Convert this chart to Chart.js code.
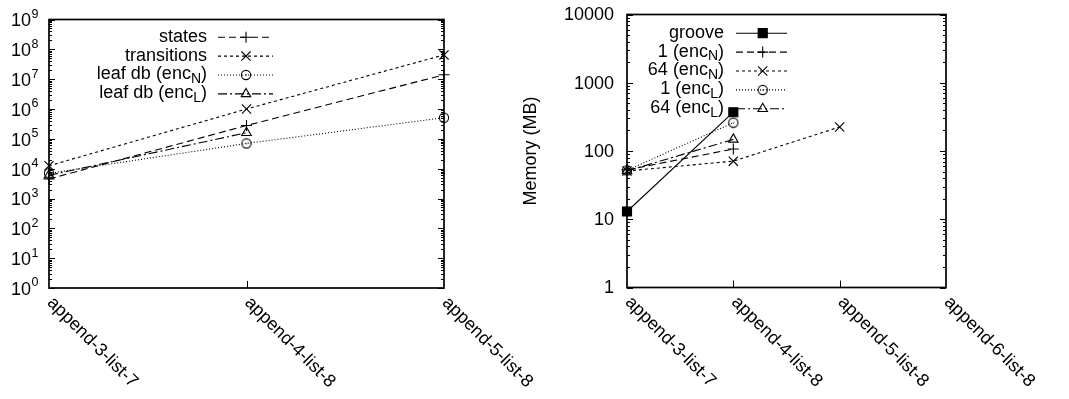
<!DOCTYPE html>
<html>
<head>
<meta charset="utf-8">
<script src="https://cdn.jsdelivr.net/npm/chart.js@4/dist/chart.umd.min.js"></script>
<style>
html, body { margin: 0; padding: 0; background: #fff; }
#wrap { position: relative; width: 1069px; height: 399px; }
canvas { position: absolute; top: 0; }
</style>
</head>
<body>
<div id="wrap">
  <canvas id="leftChart" width="620" height="399" style="left:0"></canvas>
  <canvas id="rightChart" width="549" height="399" style="left:520px"></canvas>
</div>
<script>
const FONT = '"Liberation Sans", Arial, sans-serif';
const FS = 18;

// left panel: sizes
const leftCats = ['append-3-list-7', 'append-4-list-8', 'append-5-list-8'];
const leftNames = ['states', 'transitions', 'leaf db (enc_{N})', 'leaf db (enc_{L})'];
const statesVals = [4500, 2.8e5, 1.4e7];
const transitionsVals = [1.25e4, 1.0e6, 6.5e7];
const leafNVals = [7000, 7.0e4, 5.1e5];
const leafLVals = [6000, 1.6e5, null];
const leftExponents = [0, 1, 2, 3, 4, 5, 6, 7, 8, 9];

// right panel: memory
const rightCats = ['append-3-list-7', 'append-4-list-8', 'append-5-list-8', 'append-6-list-8'];
const rightNames = ['groove', '1 (enc_{N})', '64 (enc_{N})', '1 (enc_{L})', '64 (enc_{L})'];
const grooveVals = [13, 370, null, null];
const oneNVals = [53, 107, null, null];
const sixtyFourNVals = [51, 71, 225, null];
const oneLVals = [52, 260, null, null];
const sixtyFourLVals = [51, 148, null, null];
const rightTicks = [1, 10, 100, 1000, 10000];
const rightTitle = 'Memory (MB)';

// circle with a dot in the middle, like gnuplot's open circle
function dotCircle() {
    const c = document.createElement('canvas');
    c.width = 12; c.height = 12;
    const g = c.getContext('2d');
    g.strokeStyle = '#000'; g.lineWidth = 1.1;
    g.beginPath(); g.arc(6, 6, 4.6, 0, Math.PI * 2); g.stroke();
    g.fillStyle = '#000'; g.fillRect(5.5, 5.5, 1.2, 1.2);
    return c;
}
const CIRCLE = dotCircle();

const STYLES = {
    solid:   { dash: [],            point: 'rect',     radius: 6.4, fill: true },
    dashed:  { dash: [7, 4],        point: 'cross',    radius: 5.5 },
    short:   { dash: [3, 3],        point: 'crossRot', radius: 6.5 },
    dotted:  { dash: [1, 2],        point: CIRCLE,     radius: 5 },
    dashdot: { dash: [9, 3, 2, 3],  point: 'triangle', radius: 5.5 }
};

function ds(label, data, st) {
    const s = STYLES[st];
    return {
        label, data,
        borderColor: '#000', borderWidth: 1.1, borderDash: s.dash,
        pointStyle: s.point, pointRadius: s.radius, pointBorderWidth: 1.1,
        pointBorderColor: '#000', pointBackgroundColor: s.fill ? '#000' : 'rgba(0,0,0,0)',
        fill: false, tension: 0, clip: false, spanGaps: false
    };
}

// draws text with _{x} subscripts
function richText(ctx, str, x, y) {
    const parts = str.split(/(_\{[^}]*\})/).filter(p => p.length);
    let total = 0;
    const items = parts.map(p => {
        const sub = p.startsWith('_{');
        const txt = sub ? p.slice(2, -1) : p;
        ctx.font = (sub ? Math.round(FS * 0.8) : FS) + 'px ' + FONT;
        const w = ctx.measureText(txt).width;
        total += w;
        return { txt, sub, w };
    });
    let cx = x - total;
    items.forEach(it => {
        ctx.font = (it.sub ? Math.round(FS * 0.8) : FS) + 'px ' + FONT;
        ctx.textAlign = 'left';
        ctx.fillText(it.txt, cx, it.sub ? y + 5 : y);
        cx += it.w;
    });
}

const gnuplotPlugin = {
    id: 'gnuplot',
    afterDraw(chart, args, o) {
        const ctx = chart.ctx;
        const a = chart.chartArea;
        const xs = chart.scales.x, ys = chart.scales.y;
        ctx.save();
        ctx.strokeStyle = '#000'; ctx.fillStyle = '#000';

        // y ticks, major and minor, both sides
        ctx.lineWidth = 1;
        ctx.setLineDash([]);
        ctx.beginPath();
        const minE = Math.round(Math.log10(ys.min)), maxE = Math.round(Math.log10(ys.max));
        for (let e = minE; e <= maxE; e++) {
            for (let m = 1; m <= 9; m++) {
                const v = m * Math.pow(10, e);
                if (v > ys.max) break;
                const py = Math.round(ys.getPixelForValue(v)) + 0.5;
                const len = m === 1 ? 6 : 3;
                ctx.moveTo(a.left, py); ctx.lineTo(a.left + len, py);
                ctx.moveTo(a.right, py); ctx.lineTo(a.right - len, py);
            }
        }
        // x ticks at bottom
        for (let i = 1; i < xs.ticks.length - 1; i++) {
            const px = Math.round(xs.getPixelForTick(i)) + 0.5;
            ctx.moveTo(px, a.bottom); ctx.lineTo(px, a.bottom - 7);
        }
        ctx.stroke();

        // frame
        ctx.lineWidth = 1.7;
        ctx.strokeRect(a.left, a.top, a.right - a.left, a.bottom - a.top);

        // y tick labels
        ctx.textBaseline = 'middle';
        o.yLabels.forEach(v => {
            const py = ys.getPixelForValue(v);
            if (o.power) {
                const e = Math.round(Math.log10(v));
                ctx.font = FS + 'px ' + FONT;
                ctx.textAlign = 'right';
                ctx.fillText('10', o.yLabelX, py + 2);
                ctx.font = '12.5px ' + FONT;
                ctx.textAlign = 'left';
                ctx.fillText(String(e), o.yLabelX + 0.5, py - 5);
            } else {
                ctx.font = FS + 'px ' + FONT;
                ctx.textAlign = 'right';
                ctx.fillText(String(v), o.yLabelX, py + 1);
            }
        });

        // x tick labels, rotated clockwise
        ctx.font = FS + 'px ' + FONT;
        ctx.textAlign = 'left';
        ctx.textBaseline = 'middle';
        xs.ticks.forEach((t, i) => {
            const px = xs.getPixelForTick(i);
            ctx.save();
            ctx.translate(px + 1, a.bottom + 12);
            ctx.rotate(Math.PI / 4);
            ctx.fillText(chart.data.labels[i], 0, 0);
            ctx.restore();
        });

        // y title
        if (o.title) {
            ctx.save();
            ctx.translate(o.titleX, (a.top + a.bottom) / 2);
            ctx.rotate(-Math.PI / 2);
            ctx.textAlign = 'center';
            ctx.textBaseline = 'middle';
            ctx.font = FS + 'px ' + FONT;
            ctx.fillText(o.title, 0, 0);
            ctx.restore();
        }

        // key
        ctx.textBaseline = 'middle';
        chart.data.datasets.forEach((d, i) => {
            const y = o.key.y + i * o.key.dy;
            ctx.fillStyle = '#000';
            richText(ctx, d.label, o.key.textRight, y);
            ctx.lineWidth = 1.1;
            ctx.setLineDash(d.borderDash);
            ctx.beginPath();
            ctx.moveTo(o.key.x0, y + 0.5); ctx.lineTo(o.key.x1, y + 0.5);
            ctx.stroke();
            ctx.setLineDash([]);
            ctx.fillStyle = d.pointBackgroundColor;
            Chart.helpers.drawPoint(ctx, {
                pointStyle: d.pointStyle, radius: d.pointRadius, rotation: 0, borderWidth: 1.1
            }, o.key.xm, y + 0.5);
            if (d.pointBackgroundColor === '#000') ctx.fill();
        });
        ctx.restore();
    }
};

function baseOptions(padding, plug) {
    return {
        responsive: false, animation: false, devicePixelRatio: 1,
        layout: { padding },
        plugins: { legend: { display: false }, tooltip: { enabled: false }, gnuplot: plug },
        elements: { line: { borderJoinStyle: 'miter' } }
    };
}

const leftOpts = baseOptions({ left: 49, right: 176, top: 19.5, bottom: 111 }, {
    yLabels: leftExponents.map(e => Math.pow(10, e)), power: true, yLabelX: 31,
    key: { textRight: 207, y: 36.7, dy: 18.9, x0: 218, x1: 273, xm: 246 }
});
leftOpts.scales = {
    x: { type: 'category', offset: false, display: false },
    y: { type: 'logarithmic', min: 1, max: 1e9, display: false }
};

new Chart(document.getElementById('leftChart'), {
    type: 'line',
    data: {
        labels: leftCats,
        datasets: [
            ds(leftNames[0], statesVals, 'dashed'),
            ds(leftNames[1], transitionsVals, 'short'),
            ds(leftNames[2], leafNVals, 'dotted'),
            ds(leftNames[3], leafLVals, 'dashdot')
        ]
    },
    options: leftOpts,
    plugins: [gnuplotPlugin]
});

const rightOpts = baseOptions({ left: 107, right: 123, top: 14.5, bottom: 111.5 }, {
    yLabels: rightTicks, power: false, yLabelX: 94, title: rightTitle, titleX: 11,
    key: { textRight: 204, y: 32.7, dy: 18.9, x0: 216, x1: 267, xm: 242.7 }
});
rightOpts.scales = {
    x: { type: 'category', offset: false, display: false },
    y: { type: 'logarithmic', min: 1, max: 10000, display: false }
};

new Chart(document.getElementById('rightChart'), {
    type: 'line',
    data: {
        labels: rightCats,
        datasets: [
            ds(rightNames[0], grooveVals, 'solid'),
            ds(rightNames[1], oneNVals, 'dashed'),
            ds(rightNames[2], sixtyFourNVals, 'short'),
            ds(rightNames[3], oneLVals, 'dotted'),
            ds(rightNames[4], sixtyFourLVals, 'dashdot')
        ]
    },
    options: rightOpts,
    plugins: [gnuplotPlugin]
});
</script>
</body>
</html>
